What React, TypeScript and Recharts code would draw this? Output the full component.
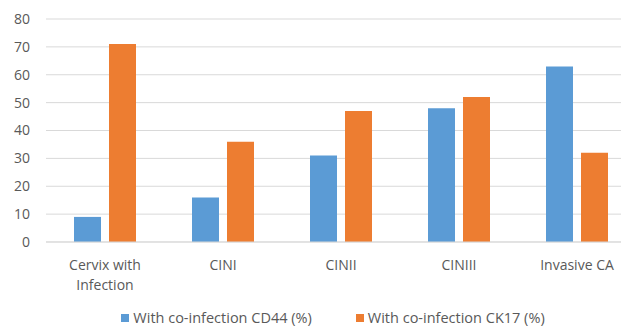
import React from 'react';
import {
  BarChart, Bar, XAxis, YAxis, CartesianGrid, Legend
} from 'recharts';

// grades along the x axis
const categories = ['Cervix with Infection', 'CINI', 'CINII', 'CINIII', 'Invasive CA'];
// percentage with co-infection, per marker
const cd44Values = [9, 16, 31, 48, 63];
const ck17Values = [71, 36, 47, 52, 32];
const yTicks = [0, 10, 20, 30, 40, 50, 60, 70, 80];

const seriesInfo = [
  { key: 'cd44', name: 'With co-infection CD44 (%)', color: '#5B9BD5' },
  { key: 'ck17', name: 'With co-infection CK17 (%)', color: '#ED7D31' },
];

const data = categories.map((name, i) => ({
  name,
  cd44: cd44Values[i],
  ck17: ck17Values[i],
}));

const FONT = '"Open Sans", sans-serif';
const TEXT = '#595959';

// split long labels onto two lines like the office chart does
function wrapLabel(label: string, maxChars = 12): string[] {
  const words = label.split(' ');
  const lines: string[] = [];
  let cur = '';
  for (const w of words) {
    const next = cur ? cur + ' ' + w : w;
    if (next.length > maxChars && cur) {
      lines.push(cur);
      cur = w;
    } else {
      cur = next;
    }
  }
  if (cur) lines.push(cur);
  return lines;
}

function CategoryTick(props: any) {
  const { x, y, payload } = props;
  const lines = wrapLabel(String(payload.value));
  return (
    <text x={x} y={y} textAnchor="middle" fill={TEXT} fontSize={14} fontFamily={FONT}>
      {lines.map((line, i) => (
        <tspan key={i} x={x} dy={i === 0 ? 26 : 20}>{line}</tspan>
      ))}
    </text>
  );
}

function LegendRow() {
  return (
    <div style={{
      display: 'flex', justifyContent: 'center', gap: 44, height: 16,
      lineHeight: '16px', fontFamily: FONT, fontSize: 14.5, color: TEXT,
    }}>
      {seriesInfo.map(s => (
        <span key={s.key} style={{ display: 'flex', alignItems: 'center' }}>
          <span style={{ width: 8, height: 8, background: s.color, marginRight: 4, display: 'inline-block' }} />
          {s.name}
        </span>
      ))}
    </div>
  );
}

export default function App() {
  return (
    <div style={{ position: 'fixed', left: 0, top: 0, width: 621, height: 326, overflow: 'hidden', background: '#fff' }}>
      <BarChart
        width={640}
        height={326}
        data={data}
        margin={{ top: 19, right: 4, left: 0, bottom: 0 }}
        barSize={27}
        barGap={8}
      >
        <CartesianGrid vertical={false} stroke="#D9D9D9" />
        <XAxis
          dataKey="name"
          height={68}
          axisLine={{ stroke: '#D9D9D9' }}
          tickLine={false}
          tickSize={0}
          interval={0}
          tick={<CategoryTick />}
        />
        <YAxis
          width={46}
          domain={[0, 80]}
          ticks={yTicks}
          axisLine={false}
          tickLine={false}
          tickMargin={10}
          tick={{ fill: TEXT, fontSize: 14, fontFamily: FONT }}
        />
        <Legend
          verticalAlign="bottom"
          content={() => <LegendRow />}
          wrapperStyle={{ left: 0, width: 666 }}
        />
        {seriesInfo.map(s => (
          <Bar key={s.key} dataKey={s.key} name={s.name} fill={s.color} isAnimationActive={false} />
        ))}
      </BarChart>
    </div>
  );
}
